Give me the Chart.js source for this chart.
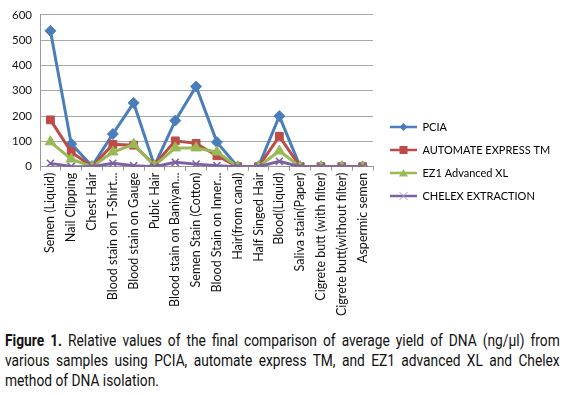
<!DOCTYPE html>
<html>
<head>
<meta charset="utf-8">
<script src="https://cdn.jsdelivr.net/npm/chart.js@4"></script>
<style>
  html, body { margin: 0; padding: 0; background: #fff; }
  #wrap { position: relative; width: 566px; height: 318px; }
  #cap {
    position: absolute; left: 5px; top: 331px; width: 645px;
    transform: scaleX(0.86); transform-origin: 0 0;
    font-family: Roboto, "Liberation Sans", sans-serif;
    font-size: 16px; line-height: 20px; color: #111;
  }
  #cap .j { text-align: justify; text-align-last: justify; }
</style>
</head>
<body>
<div id="wrap"><canvas id="c"></canvas></div>
<div id="cap"><div class="j"><b>Figure 1.</b> Relative values of the final comparison of average yield of DNA (ng/µl) from</div><div class="j">various samples using PCIA, automate express TM, and EZ1 advanced XL and Chelex</div><div>method of DNA isolation.</div></div>
<script>
const categories = [
  "Semen (Liquid)", "Nail Clipping", "Chest Hair", "Blood stain on T-Shirt...",
  "Blood stain on Gauge", "Pubic Hair", "Blood stain on Baniyan...", "Semen Stain (Cotton)",
  "Blood Stain on Inner...", "Hair(from canal)", "Half Singed Hair", "Blood(Liquid)",
  "Saliva stain(Paper)", "Cigrete butt (with filter)", "Cigrete butt(without filter)", "Aspermic semen"
];
const seriesNames = ["PCIA", "AUTOMATE EXPRESS TM", "EZ1 Advanced XL", "CHELEX EXTRACTION"];
const pcia      = [537, 90, 2, 129, 252, 4, 182, 317, 97, 0, 1, 200, 0, 0, 0, 0];
const automate  = [185, 58, 0, 88, 85, 8, 102, 92, 43, 0, 0, 120, 0, 0, 0, 0];
const ez1       = [98, 30, 0, 58, 88, 4, 74, 74, 58, 0, 0, 62, 0, 0, 0, 0];
const chelex    = [13, 1, 0, 13, 4, 0, 17, 10, 4, 0, 0, 21, 0, 0, 0, 0];
const yTicks    = [0, 100, 200, 300, 400, 500, 600];

const colors = ["#4A7EBB", "#BE4B48", "#98B954", "#7D60A0"];
const styles = ["rectRot", "rect", "triangle", "crossRot"];
const radii = [5.5, 5.5, 6, 5];

function legendIcon(i) {
  const cv = document.createElement('canvas');
  cv.width = 32; cv.height = 12;
  const g = cv.getContext('2d');
  g.strokeStyle = colors[i]; g.fillStyle = colors[i];
  g.lineWidth = 2.5;
  g.beginPath(); g.moveTo(5, 6); g.lineTo(32, 6); g.stroke();
  const cx = 18.5, cy = 6, r = 4;
  g.beginPath();
  if (styles[i] === 'rectRot') { g.moveTo(cx, cy - r); g.lineTo(cx + r, cy); g.lineTo(cx, cy + r); g.lineTo(cx - r, cy); g.closePath(); g.fill(); }
  else if (styles[i] === 'rect') { g.fillRect(cx - 4, cy - 4, 8, 8); }
  else if (styles[i] === 'triangle') { g.moveTo(cx, cy - 4); g.lineTo(cx + 4.5, cy + 3.5); g.lineTo(cx - 4.5, cy + 3.5); g.closePath(); g.fill(); }
  else { g.lineWidth = 1; g.strokeStyle = '#A99BC4'; g.moveTo(cx - 4, cy - 4); g.lineTo(cx + 4, cy + 4); g.moveTo(cx + 4, cy - 4); g.lineTo(cx - 4, cy + 4); g.stroke(); }
  return cv;
}

const allData = [pcia, automate, ez1, chelex];
const datasets = allData.map((d, i) => ({
  label: seriesNames[i],
  data: d,
  borderColor: colors[i],
  backgroundColor: colors[i],
  borderWidth: 3,
  pointStyle: styles[i],
  pointRadius: radii[i],
  pointBorderWidth: i === 3 ? 1.5 : 1,
  pointBorderColor: colors[i],
  tension: 0,
  order: 4 - i
}));

const FONT = "Lato, 'Open Sans', sans-serif";
const LEGEND_WIDTH = 193;

const legendWidthPlugin = {
  id: 'legendWidth',
  afterInit(chart) {
    const lg = chart.legend;
    if (!lg) return;
    const orig = lg.fit.bind(lg);
    lg.fit = function () { orig(); this.width = LEGEND_WIDTH; };
  }
};

new Chart(document.getElementById('c'), {
  type: 'line',
  data: { labels: categories, datasets },
  plugins: [legendWidthPlugin],
  options: {
    responsive: true,
    maintainAspectRatio: false,
    animation: false,
    layout: { padding: { left: 4, top: 5, right: 0, bottom: 0 } },
    plugins: {
      tooltip: { enabled: false },
      legend: {
        position: 'right',
        labels: {
          font: { family: FONT, size: 11 },
          color: '#222',
          usePointStyle: true,
          pointStyleWidth: 32,
          padding: 12,
          generateLabels(chart) {
            return chart.data.datasets.map((ds, i) => ({
              text: ds.label,
              pointStyle: legendIcon(i),
              datasetIndex: i,
              hidden: false,
              lineWidth: 0,
              fillStyle: colors[i],
              strokeStyle: colors[i]
            }));
          }
        }
      }
    },
    scales: {
      x: {
        offset: true,
        grid: { display: true, drawOnChartArea: false, drawTicks: true, tickLength: 4, offset: true, color: '#999' },
        border: { color: '#999' },
        ticks: { font: { family: FONT, size: 12.5 }, color: '#111', maxRotation: 90, minRotation: 90, autoSkip: false, padding: 2 }
      },
      y: {
        min: 0, max: 600,
        afterBuildTicks(axis) { axis.ticks = yTicks.map(v => ({ value: v })); },
        grid: { color: '#A8A8A8', drawTicks: false },
        border: { color: '#999' },
        ticks: { font: { family: FONT, size: 11.5 }, color: '#111', padding: 8 }
      }
    }
  }
});
</script>
</body>
</html>
